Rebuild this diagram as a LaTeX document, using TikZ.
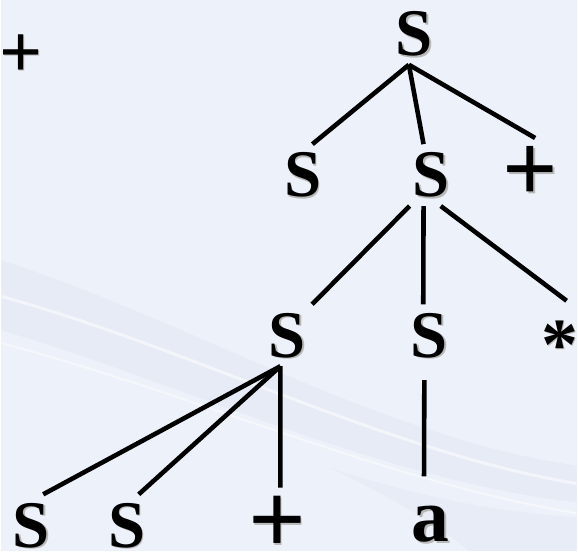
\documentclass[tikz,border=0pt]{standalone}
\usepackage{fontspec}
\setmainfont{Liberation Serif}
\usepackage{tikz}
\usetikzlibrary{positioning}
\definecolor{slidebg}{RGB}{237,241,249}
\definecolor{swoosh}{RGB}{206,217,233}
\newcommand\shd[1]{\rlap{\kern1.6pt\smash{\raisebox{-1.6pt}{\textcolor{black!28}{#1}}}}#1}

\begin{document}
\begin{tikzpicture}[x=1pt, y=-1pt, sym/.style={font=\bfseries\fontsize{#1}{#1}\selectfont, inner sep=0pt, outer sep=8.6pt}, sym/.default=67, branch/.style={line width=4.6pt}]
% slide background
\fill[slidebg] (0,0) rectangle (578,554);
\fill[swoosh, opacity=.22] (0,262) .. controls (180,318) and (380,440) .. (578,468) -- (578,505) .. controls (380,482) and (180,385) .. (0,332) -- cycle;
\fill[swoosh, opacity=.18] (330,470) .. controls (420,500) and (500,515) .. (578,520) -- (578,554) -- (470,554) .. controls (430,520) and (380,495) .. cycle;
\draw[white, line width=3pt, opacity=.55] (0,298) .. controls (190,350) and (390,455) .. (578,486);
\draw[white, line width=2pt, opacity=.45] (0,345) .. controls (200,398) and (380,482) .. (578,516);
\useasboundingbox (0,0) rectangle (578,554);
\node[sym=76] (P0) at (19.5,56) {\shd{+}};
\node[sym] (R) at (415,34) {\shd{S}};
\node[sym] (L2a) at (303,176) {\shd{S}};
\node[sym] (L2b) at (432,176) {\shd{S}};
\node[sym=98] (L2c) at (532,175) {\shd{+}};
\node[sym] (L3a) at (287,337) {\shd{S}};
\node[sym] (L3b) at (430,337) {\shd{S}};
\node[sym=74, outer sep=20pt] (L3c) at (561,346.7) {\shd{*}};
\node[sym] (B1) at (30,528) {\shd{S}};
\node[sym] (B2) at (126,528) {\shd{S}};
\node[sym=102] (B3) at (277,527.5) {\shd{+}};
\node[sym=76, outer sep=30pt] (A) at (431.5,527) {\shd{a}};
\draw[branch] (R.-100) -- (L2a.73);
\draw[branch] (R.-100) -- (L2b.104);
\draw[branch] (R.-100) -- (L2c.83);
\draw[branch] (L2b.-125) -- (L3a.51);
\draw[branch] (L2b.-104) -- (L3b.101);
\draw[branch] (L2b.-73) -- (L3c.81);
\draw[branch, shorten <=14pt] (L3b.-99) -- (A.98);
\draw[branch] (L3a.-102) -- (B1.69);
\draw[branch] (L3a.-102) -- (B2.69);
\draw[branch] (L3a.-102) -- (B3.85);
\end{tikzpicture}
\end{document}
